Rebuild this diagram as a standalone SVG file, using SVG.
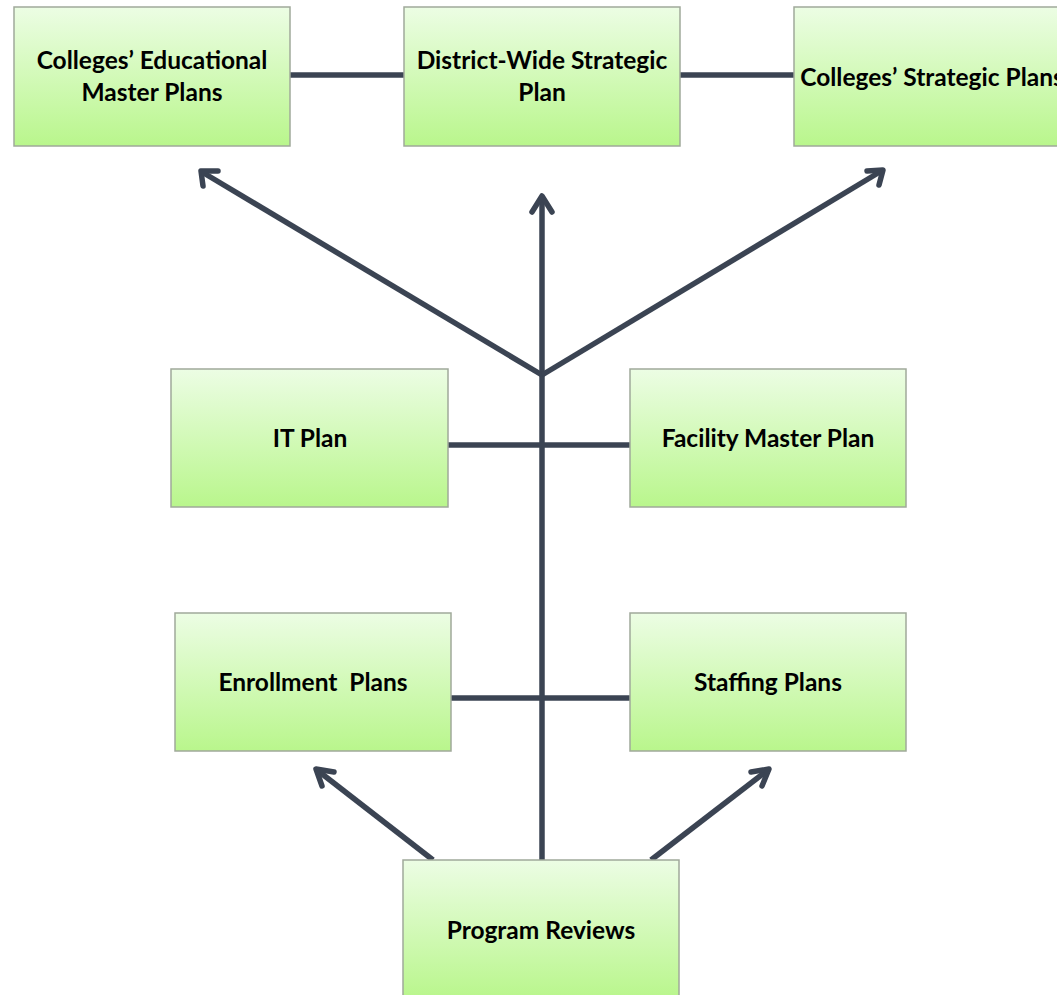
<svg xmlns="http://www.w3.org/2000/svg" width="1057" height="995" viewBox="0 0 1057 995">
<defs>
<linearGradient id="g" x1="0" y1="0" x2="0" y2="1">
<stop offset="0" stop-color="#ecfde4"/>
<stop offset="1" stop-color="#b9f68c"/>
</linearGradient>
</defs>
<style>
.box{fill:url(#g);stroke:#a0a99a;stroke-width:1.5}
.t{font-family:Lato,"Liberation Sans",sans-serif;font-weight:bold;font-size:24.5px;fill:#000;text-anchor:middle}
.c{stroke:#3b4453;stroke-width:5.5;fill:none}
.h{stroke:#3b4453;stroke-width:5.5;fill:none;stroke-linecap:round;stroke-linejoin:round}
</style>
<rect width="1057" height="995" fill="#fff"/>
<g id="connectors">
<line class="c" x1="290" y1="75" x2="404" y2="75"/>
<line class="c" x1="680" y1="75" x2="794" y2="75"/>
<line class="c" x1="542" y1="860" x2="542" y2="197"/>
<polyline class="h" points="532,212 542,196 552,212"/>
<line class="c" x1="542" y1="375" x2="202" y2="172"/>
<polyline class="h" points="203,186 201,171 218,171"/>
<line class="c" x1="542" y1="375" x2="883" y2="170"/>
<polyline class="h" points="867,171 883,170 879,185"/>
<line class="c" x1="448" y1="445" x2="630" y2="445"/>
<line class="c" x1="451" y1="698" x2="630" y2="698"/>
<line class="c" x1="433" y1="860" x2="317" y2="770"/>
<polyline class="h" points="322,786 316,769 334,772"/>
<line class="c" x1="651" y1="860" x2="768" y2="770"/>
<polyline class="h" points="751,772 769,769 762,786"/>
</g>
<g id="n-cemp"><rect class="box" x="14" y="7" width="276" height="139"/><text class="t" x="152" y="69">Colleges’ Educational</text><text class="t" x="152" y="101">Master Plans</text></g>
<g id="n-dwsp"><rect class="box" x="404" y="7" width="276" height="139"/><text class="t" x="542" y="69">District-Wide Strategic</text><text class="t" x="542" y="101">Plan</text></g>
<g id="n-csp"><rect class="box" x="794" y="7" width="276" height="139"/><text class="t" x="932" y="86">Colleges’ Strategic Plans</text></g>
<g id="n-it"><rect class="box" x="171" y="369" width="277" height="138"/><text class="t" x="310" y="447">IT Plan</text></g>
<g id="n-fmp"><rect class="box" x="630" y="369" width="276" height="138"/><text class="t" x="768" y="447">Facility Master Plan</text></g>
<g id="n-ep"><rect class="box" x="175" y="613" width="276" height="138"/><text class="t" x="313" y="691" xml:space="preserve">Enrollment  Plans</text></g>
<g id="n-sp"><rect class="box" x="630" y="613" width="276" height="138"/><text class="t" x="768" y="691">Staffing Plans</text></g>
<g id="n-pr"><rect class="box" x="403" y="860" width="276" height="139"/><text class="t" x="541" y="939">Program Reviews</text></g>
</svg>
